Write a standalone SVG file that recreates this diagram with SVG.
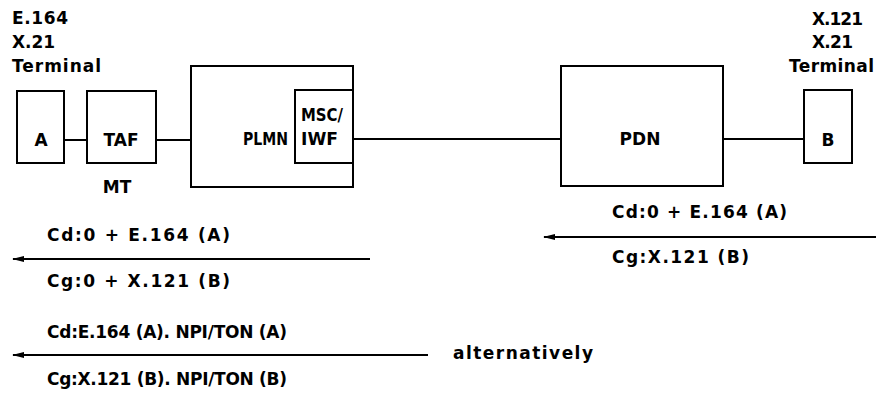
<svg xmlns="http://www.w3.org/2000/svg" width="878" height="394" viewBox="0 0 878 394">
<defs>
<style>
text{font-family:"DejaVu Sans","Liberation Sans",sans-serif;font-weight:bold;font-size:17px;fill:#000}
.box{fill:#fff;stroke:#000;stroke-width:2}
.ln{stroke:#000;stroke-width:2;fill:none}
.c{text-anchor:middle}
</style>
<marker id="ah" markerWidth="12" markerHeight="8" refX="11" refY="4" orient="auto" markerUnits="userSpaceOnUse">
<path d="M0,1 L12,4 L0,7 Z" fill="#000"/>
</marker>
</defs>
<rect width="878" height="394" fill="#fff"/>
<g id="labels-left">
<text x="12" y="24" textLength="56" lengthAdjust="spacing">E.164</text>
<text x="12" y="48" textLength="43" lengthAdjust="spacing">X.21</text>
<text x="12" y="72" textLength="89" lengthAdjust="spacing">Terminal</text>
</g>
<g id="labels-right">
<text x="812" y="25" textLength="51" lengthAdjust="spacing">X.121</text>
<text x="812" y="48" textLength="41" lengthAdjust="spacing">X.21</text>
<text x="789" y="72" textLength="85" lengthAdjust="spacing">Terminal</text>
</g>
<g id="connectors">
<line class="ln" x1="64" y1="140" x2="87" y2="140"/>
<line class="ln" x1="156" y1="140" x2="191" y2="140"/>
<line class="ln" x1="353" y1="139" x2="561" y2="139"/>
<line class="ln" x1="723" y1="139" x2="804" y2="139"/>
</g>
<g id="node-A">
<rect class="box" x="17" y="91" width="47" height="72"/>
<text class="c" x="41" y="146">A</text>
</g>
<g id="node-TAF">
<rect class="box" x="87" y="91" width="69" height="72"/>
<text class="c" x="121" y="146">TAF</text>
<text class="c" x="117" y="193">MT</text>
</g>
<g id="node-PLMN">
<rect class="box" x="191" y="66" width="162" height="121"/>
<text x="243" y="145" textLength="45" lengthAdjust="spacingAndGlyphs">PLMN</text>
</g>
<g id="node-MSC">
<rect class="box" x="295" y="90" width="58" height="73"/>
<text x="301" y="121" textLength="42" lengthAdjust="spacingAndGlyphs">MSC/</text>
<text x="301" y="145" textLength="37" lengthAdjust="spacingAndGlyphs">IWF</text>
</g>
<g id="node-PDN">
<rect class="box" x="561" y="66" width="162" height="120"/>
<text class="c" x="640" y="145">PDN</text>
</g>
<g id="node-B">
<rect class="box" x="804" y="90" width="48" height="73"/>
<text class="c" x="828" y="146">B</text>
</g>
<g id="messages">
<line class="ln" x1="370" y1="259" x2="13" y2="259" marker-end="url(#ah)"/>
<text x="47" y="241" textLength="183" lengthAdjust="spacing">Cd:0 + E.164 (A)</text>
<text x="47" y="287" textLength="183" lengthAdjust="spacing">Cg:0 + X.121 (B)</text>
<line class="ln" x1="876" y1="237" x2="544" y2="237" marker-end="url(#ah)"/>
<text x="612" y="218" textLength="175" lengthAdjust="spacing">Cd:0 + E.164 (A)</text>
<text x="612" y="263" textLength="137" lengthAdjust="spacing">Cg:X.121 (B)</text>
<line class="ln" x1="428" y1="355" x2="13" y2="355" marker-end="url(#ah)"/>
<text x="47" y="338" textLength="240" lengthAdjust="spacing">Cd:E.164 (A). NPI/TON (A)</text>
<text x="47" y="385" textLength="240" lengthAdjust="spacing">Cg:X.121 (B). NPI/TON (B)</text>
<text x="453" y="359" textLength="140" lengthAdjust="spacing">alternatively</text>
</g>
</svg>
